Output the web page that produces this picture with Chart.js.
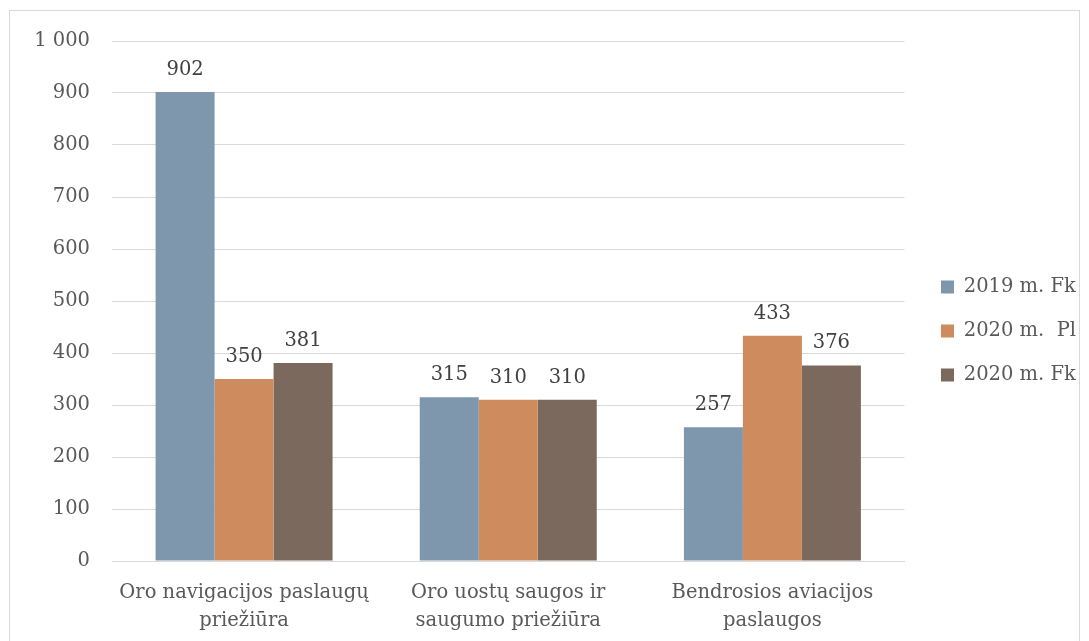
<!DOCTYPE html>
<html>
<head>
<meta charset="utf-8">
<script src="https://cdn.jsdelivr.net/npm/chart.js@4/dist/chart.umd.min.js"></script>
<style>
  body { margin: 0; background: #fff; }
  #wrap { width: 1089px; height: 641px; position: relative; }
</style>
</head>
<body>
<div id="wrap"><canvas id="chart" width="1089" height="641"></canvas></div>
<script>
// ===== Data =====
const categories = [
  ["Oro navigacijos paslaugų", "priežiūra"],
  ["Oro uostų saugos ir", "saugumo priežiūra"],
  ["Bendrosios aviacijos", "paslaugos"]
];
const seriesNames = ["2019 m. Fk", "2020 m.  Pl", "2020 m. Fk"];
const fk2019 = [902, 315, 257];
const pl2020 = [350, 310, 433];
const fk2020 = [381, 310, 376];
const yTicks = [0, 100, 200, 300, 400, 500, 600, 700, 800, 900, 1000];

const colors = ["#7F97AD", "#CD8B5E", "#7B695E"];
const FONT = "'DejaVu Serif', serif";
const FS = 19.5;

// frame around the whole chart
const framePlugin = {
  id: "frame",
  beforeDraw(chart) {
    const c = chart.ctx;
    c.save();
    c.strokeStyle = "#d9d9d9";
    c.lineWidth = 1;
    c.strokeRect(9.5, 10.5, 1070, 640);
    c.restore();
  }
};

// value labels above bars
const valueLabels = {
  id: "valueLabels",
  afterDatasetsDraw(chart) {
    const c = chart.ctx;
    c.save();
    c.font = FS + "px " + FONT;
    c.fillStyle = "#404040";
    c.textAlign = "center";
    c.textBaseline = "alphabetic";
    chart.data.datasets.forEach((ds, i) => {
      chart.getDatasetMeta(i).data.forEach((bar, j) => {
        c.fillText(ds.data[j], bar.x, bar.y - 17);
      });
    });
    c.restore();
  }
};

// empty spacer scale (no marks)
const spacer = (position, size) => ({
  position,
  grid: { display: false },
  border: { display: false },
  ticks: { display: false },
  afterFit(scale) {
    if (position === "top") scale.height = size; else scale.width = size;
  }
});

new Chart(document.getElementById("chart"), {
  type: "bar",
  data: {
    labels: categories,
    datasets: [
      { label: seriesNames[0], data: fk2019, backgroundColor: colors[0] },
      { label: seriesNames[1], data: pl2020, backgroundColor: colors[1] },
      { label: seriesNames[2], data: fk2020, backgroundColor: colors[2] }
    ]
  },
  options: {
    responsive: false,
    animation: false,
    devicePixelRatio: 1,
    categoryPercentage: 0.67,
    barPercentage: 1,
    layout: { padding: { left: 20, right: 3, top: 31, bottom: 10 } },
    plugins: {
      legend: {
        position: "right",
        labels: {
          font: { family: FONT, size: FS },
          color: "#595959",
          boxWidth: 13,
          boxHeight: 13,
          padding: 24.5
        }
      },
      tooltip: { enabled: false }
    },
    scales: {
      x: {
        grid: { display: false },
        border: { display: true, color: "#d9d9d9" },
        ticks: {
          font: { family: FONT, size: FS, lineHeight: 1.45 },
          color: "#595959",
          maxRotation: 0,
          padding: 10
        },
        afterFit(scale) { scale.height = 70; }
      },
      y: {
        min: 0,
        max: 1000,
        afterBuildTicks(scale) { scale.ticks = yTicks.map(v => ({ value: v })); },
        grid: { color: "#d9d9d9", drawTicks: false },
        border: { display: false },
        ticks: {
          font: { family: FONT, size: FS },
          color: "#595959",
          padding: 22,
          callback: v => v >= 1000 ? "1 000" : String(v)
        },
        afterFit(scale) { scale.width = 92; }
      },
      gapRight: spacer("right", 12),
      gapTop: Object.assign(spacer("top", 10), { type: "category", axis: "x" })
    }
  },
  plugins: [framePlugin, valueLabels]
});
</script>
</body>
</html>
